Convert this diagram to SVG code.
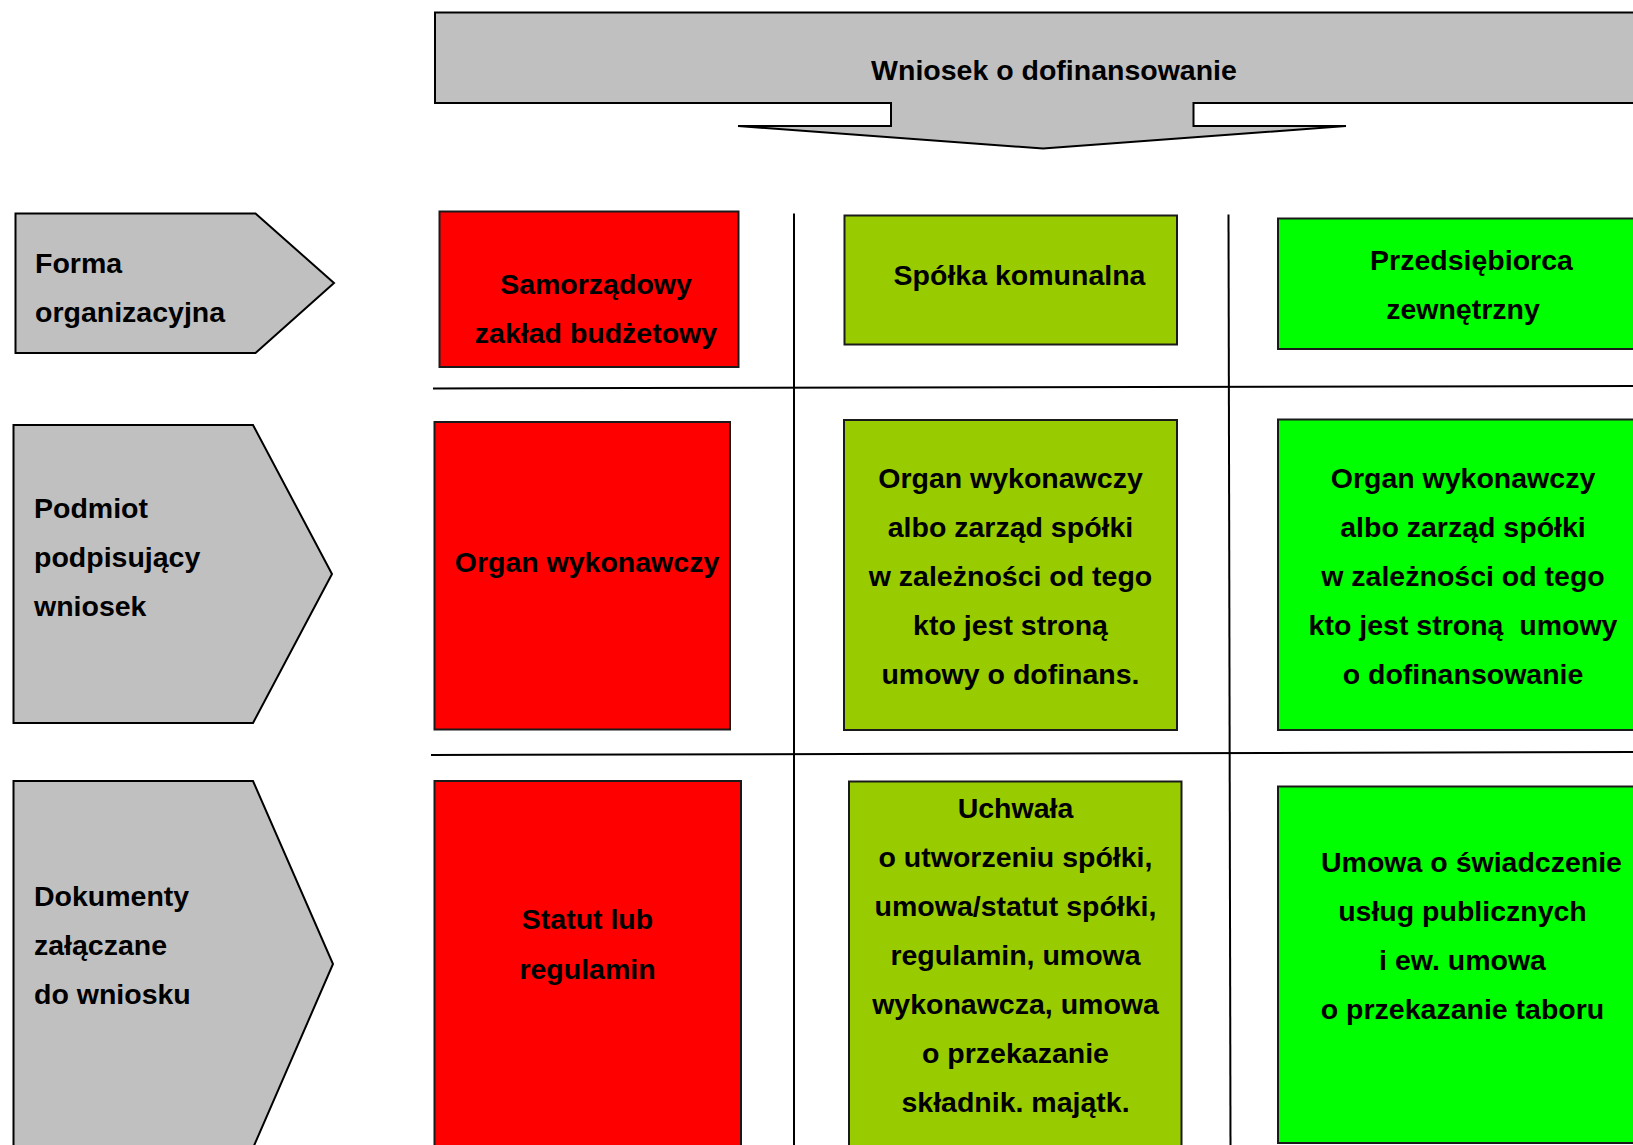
<svg xmlns="http://www.w3.org/2000/svg" width="1633" height="1145" viewBox="0 0 1633 1145">
  <style>
    .lbl { font-family: "Liberation Sans", Arial, sans-serif; font-weight: bold; font-size: 28.5px; fill: #000; }
    .mid { text-anchor: middle; }
    .gray { fill: #C0C0C0; stroke: #000; stroke-width: 2; }
    .red { fill: #FF0000; stroke: #1a1a1a; stroke-width: 2; }
    .olive { fill: #99CC00; stroke: #1a1a1a; stroke-width: 2; }
    .green { fill: #00FF00; stroke: #1a1a1a; stroke-width: 2; }
    .grid { stroke: #000; stroke-width: 2; fill: none; }
  </style>
  <rect width="1633" height="1145" fill="#fff"/>

  <!-- header: block arrow pointing down into the table -->
  <g id="header">
    <path class="gray" d="M435,12.5 H1645 V103 H1193.5 V126 H1346 L1043,148.5 L738,126 H891 V103 H435 Z"/>
    <text class="lbl mid" x="1054" y="80">Wniosek o dofinansowanie</text>
  </g>

  <!-- table rules -->
  <g id="connectors">
    <line class="grid" x1="794" y1="213.5" x2="794" y2="1145"/>
    <line class="grid" x1="1228.5" y1="214.5" x2="1230.5" y2="1145"/>
    <line class="grid" x1="433" y1="388.5" x2="1633" y2="386"/>
    <line class="grid" x1="431" y1="755" x2="1633" y2="752"/>
  </g>

  <!-- row headers -->
  <g id="row-forma">
    <path class="gray" d="M15.5,213.5 H255.5 L334,283 L255.5,353 H15.5 Z"/>
    <text class="lbl" x="35" y="273">Forma</text>
    <text class="lbl" x="35" y="322">organizacyjna</text>
  </g>
  <g id="row-podmiot">
    <path class="gray" d="M13.5,425 H253 L332,574 L253,723 H13.5 Z"/>
    <text class="lbl" x="34" y="518">Podmiot</text>
    <text class="lbl" x="34" y="567">podpisujący</text>
    <text class="lbl" x="34" y="616">wniosek</text>
  </g>
  <g id="row-dokumenty">
    <path class="gray" d="M13.5,781 H253 L333,964 L253,1148 H13.5 Z"/>
    <text class="lbl" x="34" y="906">Dokumenty</text>
    <text class="lbl" x="34" y="955">załączane</text>
    <text class="lbl" x="34" y="1004">do wniosku</text>
  </g>

  <!-- column: zakład budżetowy -->
  <g id="zaklad-forma">
    <rect class="red" x="439.5" y="211.5" width="299" height="155.5"/>
    <text class="lbl mid" x="596" y="294">Samorządowy</text>
    <text class="lbl mid" x="596" y="343">zakład budżetowy</text>
  </g>
  <g id="zaklad-podmiot">
    <rect class="red" x="434.5" y="422" width="295.5" height="307.5"/>
    <text class="lbl mid" x="587" y="572">Organ wykonawczy</text>
  </g>
  <g id="zaklad-dokumenty">
    <rect class="red" x="434.5" y="781" width="306.5" height="370"/>
    <text class="lbl mid" x="587.5" y="929">Statut lub</text>
    <text class="lbl mid" x="587.5" y="979">regulamin</text>
  </g>

  <!-- column: spółka komunalna -->
  <g id="spolka-forma">
    <rect class="olive" x="844.5" y="215.5" width="332.5" height="129"/>
    <text class="lbl mid" x="1019.5" y="284.5">Spółka komunalna</text>
  </g>
  <g id="spolka-podmiot">
    <rect class="olive" x="844" y="420" width="333" height="310"/>
    <text class="lbl mid" x="1010.5" y="487.5">Organ wykonawczy</text>
    <text class="lbl mid" x="1010.5" y="536.5">albo zarząd spółki</text>
    <text class="lbl mid" x="1010.5" y="585.5">w zależności od tego</text>
    <text class="lbl mid" x="1010.5" y="634.5">kto jest stroną</text>
    <text class="lbl mid" x="1010.5" y="683.5">umowy o dofinans.</text>
  </g>
  <g id="spolka-dokumenty">
    <rect class="olive" x="849" y="781.5" width="332.5" height="370"/>
    <text class="lbl mid" x="1015.5" y="818">Uchwała</text>
    <text class="lbl mid" x="1015.5" y="867">o utworzeniu spółki,</text>
    <text class="lbl mid" x="1015.5" y="916">umowa/statut spółki,</text>
    <text class="lbl mid" x="1015.5" y="965">regulamin, umowa</text>
    <text class="lbl mid" x="1015.5" y="1014">wykonawcza, umowa</text>
    <text class="lbl mid" x="1015.5" y="1063">o przekazanie</text>
    <text class="lbl mid" x="1015.5" y="1112">składnik. majątk.</text>
  </g>

  <!-- column: przedsiębiorca zewnętrzny -->
  <g id="przedsiebiorca-forma">
    <rect class="green" x="1278" y="218.5" width="370" height="130.5"/>
    <text class="lbl mid" x="1471.5" y="270">Przedsiębiorca</text>
    <text class="lbl mid" x="1463" y="318.5">zewnętrzny</text>
  </g>
  <g id="przedsiebiorca-podmiot">
    <rect class="green" x="1278" y="419.5" width="370" height="310.5"/>
    <text class="lbl mid" x="1463" y="487.5">Organ wykonawczy</text>
    <text class="lbl mid" x="1463" y="536.5">albo zarząd spółki</text>
    <text class="lbl mid" x="1463" y="585.5">w zależności od tego</text>
    <text class="lbl mid" x="1463" y="634.5" xml:space="preserve">kto jest stroną  umowy</text>
    <text class="lbl mid" x="1463" y="683.5">o dofinansowanie</text>
  </g>
  <g id="przedsiebiorca-dokumenty">
    <rect class="green" x="1278" y="786.5" width="370" height="356.5"/>
    <text class="lbl mid" x="1471.5" y="872">Umowa o świadczenie</text>
    <text class="lbl mid" x="1462.5" y="920.5">usług publicznych</text>
    <text class="lbl mid" x="1462.5" y="969.5">i ew. umowa</text>
    <text class="lbl mid" x="1462.5" y="1018.5">o przekazanie taboru</text>
  </g>
</svg>
